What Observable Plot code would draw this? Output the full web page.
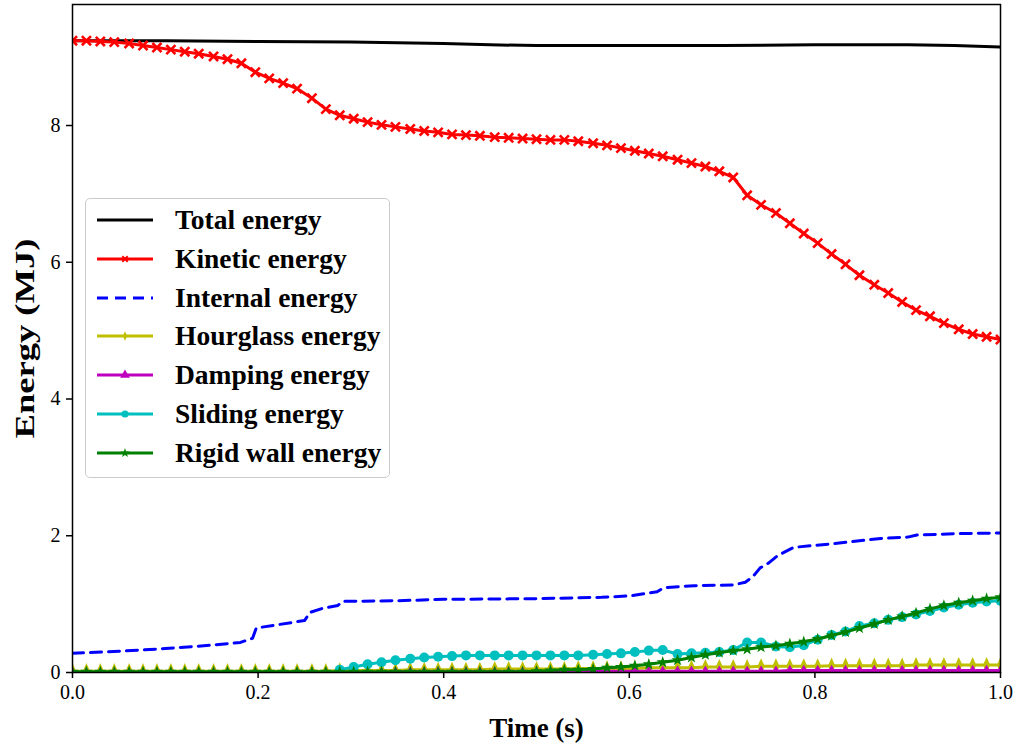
<!DOCTYPE html>
<html>
<head>
<meta charset="utf-8">
<script src="https://cdn.jsdelivr.net/npm/d3@7"></script>
<script src="https://cdn.jsdelivr.net/npm/@observablehq/plot@0.6"></script>
<style>
  body { margin: 0; background: #fff; }
  #wrap { position: relative; width: 1020px; height: 750px; font-family: "Liberation Serif", "Times New Roman", serif; }
  #legend { position: absolute; left: 85px; top: 198px; width: 305px; height: 280px; border: 1.5px solid #cccccc; border-radius: 5px; background: rgba(255,255,255,0.85); box-sizing: border-box; }
  .row { position: absolute; left: 0; height: 30px; display: flex; align-items: center; white-space: nowrap; }
  .row svg { margin-left: 10px; flex: none; }
  .row span { margin-left: 21px; font-weight: bold; font-size: 27.5px; color: #000; line-height: 30px; }
</style>
</head>
<body>
<div id="wrap"><div id="legend"></div></div>
<script>
// Series names
const seriesNames = ["Total energy", "Kinetic energy", "Internal energy", "Hourglass energy", "Damping energy", "Sliding energy", "Rigid wall energy"];
const seriesColors = ["#000000", "#ff0000", "#0000ff", "#bfbf00", "#bf00bf", "#00bfbf", "#008000"];

// Common sampling times (s) for marked series
const time = [0, .015, .030, .045, .061, .076, .091, .106, .121, .136, .152, .167, .182, .197, .212, .227, .242, .258, .273, .288,
  .303, .318, .333, .348, .364, .379, .394, .409, .424, .439, .455, .470, .485, .500, .515, .530, .545, .561, .576, .591,
  .606, .621, .636, .652, .667, .682, .697, .712, .727, .742, .758, .773, .788, .803, .818, .833, .848, .864, .879, .894,
  .909, .924, .939, .955, .970, .985, 1.000];

const kinetic = [9.24, 9.24, 9.23, 9.22, 9.20, 9.17, 9.14, 9.11, 9.08, 9.05, 9.01, 8.97, 8.91, 8.78, 8.69, 8.62, 8.54, 8.40, 8.24, 8.15,
  8.10, 8.05, 8.01, 7.98, 7.95, 7.92, 7.90, 7.87, 7.86, 7.85, 7.83, 7.82, 7.81, 7.80, 7.79, 7.79, 7.77, 7.74, 7.71, 7.67,
  7.63, 7.59, 7.55, 7.50, 7.45, 7.40, 7.33, 7.24, 6.98, 6.84, 6.72, 6.57, 6.42, 6.28, 6.12, 5.97, 5.81, 5.67, 5.55, 5.42,
  5.30, 5.21, 5.11, 5.02, 4.95, 4.91, 4.87];

const hourglass = [0.02, 0.02, 0.02, 0.02, 0.02, 0.02, 0.02, 0.02, 0.02, 0.02, 0.02, 0.02, 0.02, 0.02, 0.02, 0.02, 0.02, 0.02, 0.02, 0.03,
  0.03, 0.03, 0.03, 0.03, 0.04, 0.04, 0.04, 0.04, 0.04, 0.04, 0.05, 0.05, 0.05, 0.05, 0.05, 0.05, 0.06, 0.06, 0.06, 0.06,
  0.06, 0.07, 0.07, 0.07, 0.07, 0.08, 0.08, 0.08, 0.08, 0.09, 0.09, 0.09, 0.09, 0.09, 0.10, 0.10, 0.10, 0.10, 0.10, 0.10,
  0.11, 0.11, 0.11, 0.11, 0.11, 0.11, 0.11];

const damping = [0.00, 0.00, 0.00, 0.00, 0.00, 0.00, 0.00, 0.00, 0.00, 0.00, 0.00, 0.00, 0.00, 0.00, 0.00, 0.00, 0.00, 0.00, 0.00, 0.00,
  0.00, 0.00, 0.00, 0.01, 0.01, 0.01, 0.01, 0.01, 0.01, 0.01, 0.01, 0.01, 0.01, 0.01, 0.01, 0.01, 0.01, 0.02, 0.02, 0.02,
  0.02, 0.02, 0.02, 0.02, 0.02, 0.02, 0.02, 0.02, 0.02, 0.02, 0.02, 0.03, 0.03, 0.03, 0.03, 0.03, 0.03, 0.03, 0.03, 0.03,
  0.03, 0.03, 0.03, 0.03, 0.03, 0.03, 0.03];

// Sliding energy starts at t = 0.288
const slidingTime = [.288, .303, .318, .333, .348, .364, .379, .394, .409, .424, .439, .455, .470, .485, .500, .515, .530, .545, .561, .576,
  .591, .606, .621, .636, .652, .667, .682, .697, .712, .727, .742, .758, .773, .788, .803, .818, .833, .848, .864, .879,
  .894, .909, .924, .939, .955, .970, .985, 1.000];
const sliding = [0.04, 0.08, 0.12, 0.15, 0.18, 0.20, 0.22, 0.23, 0.24, 0.25, 0.25, 0.25, 0.25, 0.25, 0.25, 0.25, 0.25, 0.25, 0.26, 0.27,
  0.28, 0.30, 0.32, 0.33, 0.27, 0.28, 0.29, 0.30, 0.33, 0.44, 0.44, 0.38, 0.37, 0.40, 0.48, 0.55, 0.60, 0.68, 0.72, 0.77,
  0.81, 0.85, 0.90, 0.95, 0.99, 1.02, 1.04, 1.05];

const rigidWall = [0.01, 0.01, 0.01, 0.01, 0.01, 0.01, 0.01, 0.01, 0.01, 0.01, 0.01, 0.01, 0.01, 0.01, 0.01, 0.01, 0.01, 0.01, 0.01, 0.01,
  0.01, 0.01, 0.01, 0.01, 0.01, 0.01, 0.01, 0.01, 0.01, 0.01, 0.01, 0.01, 0.01, 0.02, 0.03, 0.04, 0.04, 0.05, 0.07, 0.08,
  0.10, 0.12, 0.15, 0.18, 0.22, 0.26, 0.29, 0.32, 0.34, 0.37, 0.39, 0.42, 0.45, 0.49, 0.54, 0.59, 0.65, 0.71, 0.77, 0.82,
  0.87, 0.93, 0.98, 1.02, 1.05, 1.08, 1.10];

// Unmarked series with their own sampling
const totalTime = [0, 0.1, 0.2, 0.3, 0.4, 0.45, 0.5, 0.6, 0.7, 0.8, 0.9, 0.95, 1.0];
const total = [9.24, 9.24, 9.23, 9.22, 9.20, 9.18, 9.17, 9.17, 9.17, 9.18, 9.18, 9.17, 9.15];

const internalTime = [0, 0.05, 0.1, 0.15, 0.181, 0.194, 0.198, 0.25, 0.256, 0.27, 0.286, 0.291, 0.35, 0.4, 0.5, 0.57, 0.6, 0.63, 0.637,
  0.67, 0.712, 0.725, 0.733, 0.741, 0.75, 0.76, 0.777, 0.817, 0.871, 0.9, 0.91, 0.95, 1.0];
const internal = [0.28, 0.31, 0.35, 0.40, 0.44, 0.50, 0.65, 0.76, 0.88, 0.94, 0.98, 1.04, 1.05, 1.07, 1.08, 1.10, 1.12, 1.18, 1.24,
  1.27, 1.28, 1.32, 1.40, 1.53, 1.60, 1.71, 1.83, 1.88, 1.96, 1.98, 2.01, 2.03, 2.04];

const xTicks = [0, 0.2, 0.4, 0.6, 0.8, 1.0];
const yTicks = [0, 2, 4, 6, 8];

// tables
const zipT = (ts, vs) => ts.map((t, i) => ({t, v: vs[i]}));
const totalData = zipT(totalTime, total);
const kineticData = zipT(time, kinetic);
const internalData = zipT(internalTime, internal);
const hourglassData = zipT(time, hourglass);
const dampingData = zipT(time, damping);
const slidingData = zipT(slidingTime, sliding);
const rigidData = zipT(time, rigidWall);

// thin diamond symbol
const thinDiamond = {
  draw(ctx, size) {
    const r = Math.sqrt(size / Math.PI);
    ctx.moveTo(0, -r * 1.35);
    ctx.lineTo(r * 0.6, 0);
    ctx.lineTo(0, r * 1.35);
    ctx.lineTo(-r * 0.6, 0);
    ctx.closePath();
  }
};

const lw = 3;
const opts = {x: "t", y: "v", clip: true};

const chart = Plot.plot({
  width: 1020,
  height: 750,
  marginLeft: 72,
  marginRight: 20,
  marginTop: 4,
  marginBottom: 78,
  style: {fontFamily: "Liberation Serif, Times New Roman, serif", fontSize: "20px", color: "#000", background: "white"},
  x: {domain: [0, 1]},
  y: {domain: [0, 9.77]},
  marks: [
    Plot.line(totalData, {...opts, stroke: seriesColors[0], strokeWidth: lw}),
    Plot.line(kineticData, {...opts, stroke: seriesColors[1], strokeWidth: lw}),
    Plot.dot(kineticData, {...opts, symbol: "times", r: 4.2, stroke: seriesColors[1], strokeWidth: 2.6}),
    Plot.line(internalData, {...opts, stroke: seriesColors[2], strokeWidth: lw, strokeDasharray: "11,7"}),
    Plot.line(hourglassData, {...opts, stroke: seriesColors[3], strokeWidth: lw}),
    Plot.dot(hourglassData, {...opts, symbol: thinDiamond, r: 6, fill: seriesColors[3], stroke: "none"}),
    Plot.line(dampingData, {...opts, stroke: seriesColors[4], strokeWidth: lw}),
    Plot.dot(dampingData, {...opts, symbol: "triangle", r: 3.6, fill: seriesColors[4], stroke: "none"}),
    Plot.line(slidingData, {...opts, stroke: seriesColors[5], strokeWidth: lw}),
    Plot.dot(slidingData, {...opts, symbol: "circle", r: 5, fill: seriesColors[5], stroke: "none"}),
    Plot.line(rigidData, {...opts, stroke: seriesColors[6], strokeWidth: lw}),
    Plot.dot(rigidData, {...opts, symbol: "star", r: 3.8, fill: seriesColors[6], stroke: "none"}),
    Plot.frame({stroke: "#000", strokeWidth: 1.5}),
    Plot.axisX({ticks: xTicks, tickFormat: d3.format(".1f"), tickSize: 6, tickPadding: 6, label: "Time (s)", labelAnchor: "center", labelArrow: "none", labelOffset: 64, fontSize: 20}),
    Plot.axisY({ticks: yTicks, tickFormat: d3.format("d"), tickSize: 6, tickPadding: 6, label: "Energy (MJ)", labelAnchor: "center", labelArrow: "none", labelOffset: 58, fontSize: 20})
  ]
});

const svg = d3.select(chart.tagName === "svg" ? chart : chart.querySelector("svg"));
svg.selectAll('g[aria-label="x-axis label"] text')
  .style("font-weight", "bold").style("font-size", "27px");
svg.selectAll('g[aria-label="y-axis label"] text')
  .style("font-weight", "bold").style("font-size", "28px")
  .attr("textLength", 200).attr("lengthAdjust", "spacingAndGlyphs");
svg.selectAll('g[aria-label="x-axis tick"] path, g[aria-label="y-axis tick"] path').attr("stroke-width", 1.5);

const wrap = document.getElementById("wrap");
wrap.insertBefore(chart, wrap.firstChild);

// legend
const legend = d3.select("#legend");
const markerFor = [null, "times", null, thinDiamond, "triangle", "circle", "star"];
const symMap = {times: d3.symbolTimes, triangle: d3.symbolTriangle, circle: d3.symbolCircle, star: d3.symbolStar};
seriesNames.forEach((name, i) => {
  const row = legend.append("div").attr("class", "row").style("top", (6 + i * 38.8) + "px");
  const s = row.append("svg").attr("width", 58).attr("height", 30);
  const ln = s.append("line").attr("x1", 1).attr("x2", 57).attr("y1", 15).attr("y2", 15)
    .attr("stroke", seriesColors[i]).attr("stroke-width", 3);
  if (i === 2) ln.attr("stroke-dasharray", "11,7");
  const m = markerFor[i];
  if (m) {
    const type = typeof m === "string" ? symMap[m] : m;
    const r = m === "times" ? 2.6 : m === "circle" ? 3.6 : m === "star" ? 3 : 3.6;
    const p = s.append("path").attr("transform", "translate(29,15)")
      .attr("d", d3.symbol(type, Math.PI * r * r)());
    if (m === "times") p.attr("fill", "none").attr("stroke", seriesColors[i]).attr("stroke-width", 2);
    else p.attr("fill", seriesColors[i]);
  }
  row.append("span").text(name);
});
</script>
</body>
</html>
